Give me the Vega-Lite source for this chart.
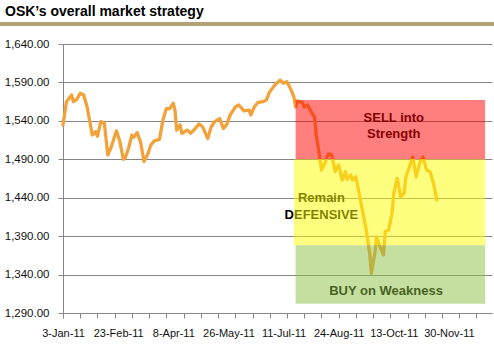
{
  "$schema": "https://vega.github.io/schema/vega-lite/v6.json",
  "width": 429,
  "height": 269,
  "autosize": {"type": "none"},
  "padding": {"left": 63, "top": 44, "right": 2, "bottom": 31},
  "background": "white",
  "config": {"view": {"stroke": null}},
  "title": {
    "text": "OSK\u2019s overall market strategy",
    "anchor": "start",
    "frame": "group",
    "dx": -58,
    "offset": 3,
    "font": "Liberation Sans",
    "fontSize": 14,
    "fontWeight": "bold",
    "color": "#000000"
  },
  "datasets": {
    "series": [
      {"d": 0, "v": 1534.6}, {"d": 2, "v": 1565}, {"d": 5, "v": 1573.6}, {"d": 6, "v": 1565},
      {"d": 8, "v": 1568}, {"d": 10, "v": 1576}, {"d": 12, "v": 1573.6}, {"d": 14, "v": 1558},
      {"d": 17, "v": 1521.6}, {"d": 19, "v": 1526}, {"d": 20, "v": 1520}, {"d": 22, "v": 1539},
      {"d": 24, "v": 1537}, {"d": 26, "v": 1495.6}, {"d": 28, "v": 1506}, {"d": 31, "v": 1527},
      {"d": 33, "v": 1513}, {"d": 35, "v": 1490}, {"d": 36, "v": 1491}, {"d": 38, "v": 1504},
      {"d": 40, "v": 1521.6}, {"d": 41, "v": 1518.6}, {"d": 43, "v": 1524.6}, {"d": 45, "v": 1513},
      {"d": 47, "v": 1487}, {"d": 49, "v": 1495.6}, {"d": 51, "v": 1508.6}, {"d": 53, "v": 1514},
      {"d": 56, "v": 1516}, {"d": 58, "v": 1541}, {"d": 60, "v": 1556}, {"d": 62, "v": 1556},
      {"d": 64, "v": 1563}, {"d": 65, "v": 1554}, {"d": 66, "v": 1528}, {"d": 68, "v": 1534.6},
      {"d": 69, "v": 1523.8}, {"d": 72, "v": 1528}, {"d": 74, "v": 1524}, {"d": 76, "v": 1528},
      {"d": 79, "v": 1536}, {"d": 81, "v": 1532.4}, {"d": 84, "v": 1517}, {"d": 86, "v": 1532},
      {"d": 88, "v": 1539}, {"d": 91, "v": 1543}, {"d": 93, "v": 1530}, {"d": 95, "v": 1535},
      {"d": 97, "v": 1547.6}, {"d": 100, "v": 1558}, {"d": 102, "v": 1560.6}, {"d": 105, "v": 1553},
      {"d": 108, "v": 1554}, {"d": 109, "v": 1547.6}, {"d": 111, "v": 1558}, {"d": 113, "v": 1563.6},
      {"d": 116, "v": 1565}, {"d": 118, "v": 1567}, {"d": 120, "v": 1578}, {"d": 123, "v": 1586.7},
      {"d": 126, "v": 1593}, {"d": 128, "v": 1588.9}, {"d": 130, "v": 1591}, {"d": 132, "v": 1582},
      {"d": 134, "v": 1571.4}, {"d": 135, "v": 1558}, {"d": 136, "v": 1566}, {"d": 139, "v": 1563.6},
      {"d": 140, "v": 1558}, {"d": 142, "v": 1560.6}, {"d": 144, "v": 1552}, {"d": 146, "v": 1545},
      {"d": 147, "v": 1521.6}, {"d": 149, "v": 1493}, {"d": 150, "v": 1476}, {"d": 152, "v": 1484.8},
      {"d": 154, "v": 1497}, {"d": 156, "v": 1495.6}, {"d": 158, "v": 1474}, {"d": 160, "v": 1482.6},
      {"d": 162, "v": 1463}, {"d": 164, "v": 1474}, {"d": 165, "v": 1464}, {"d": 167, "v": 1469.6},
      {"d": 168, "v": 1463}, {"d": 170, "v": 1467.4}, {"d": 176, "v": 1398}, {"d": 178, "v": 1367.7},
      {"d": 179, "v": 1341.7}, {"d": 181, "v": 1368}, {"d": 182, "v": 1389}, {"d": 184, "v": 1376},
      {"d": 186, "v": 1365.5}, {"d": 187, "v": 1396}, {"d": 189, "v": 1398}, {"d": 191, "v": 1420},
      {"d": 192, "v": 1446}, {"d": 194, "v": 1465}, {"d": 196, "v": 1441}, {"d": 198, "v": 1446},
      {"d": 199, "v": 1467}, {"d": 201, "v": 1480}, {"d": 203, "v": 1493}, {"d": 205, "v": 1467},
      {"d": 207, "v": 1485}, {"d": 209, "v": 1493}, {"d": 211, "v": 1476}, {"d": 213, "v": 1474},
      {"d": 215, "v": 1459}, {"d": 217, "v": 1437}
    ],
    "zones": [
      {"zone": "sell", "d1": 135, "d2": 245, "v1": 1490, "v2": 1567},
      {"zone": "defensive", "d1": 134, "d2": 245, "v1": 1378, "v2": 1490},
      {"zone": "buy", "d1": 135, "d2": 245, "v1": 1302, "v2": 1378}
    ],
    "notes": [
      {"label": "SELL into", "d": 192, "v": 1544},
      {"label": "Strength", "d": 192, "v": 1522.5},
      {"label": "Remain", "d": 150, "v": 1439},
      {"label": "DEFENSIVE", "d": 150, "v": 1417.5},
      {"label": "BUY on Weakness", "d": 187.5, "v": 1319}
    ]
  },
  "layer": [
    {
      "data": {"name": "series"},
      "mark": {"type": "line", "color": "#F2A23A", "strokeWidth": 3.3, "strokeJoin": "round", "strokeCap": "round"},
      "encoding": {
        "x": {
          "field": "d", "type": "quantitative",
          "scale": {"domain": [0, 249], "nice": false, "zero": false},
          "axis": {
            "title": null,
            "grid": false,
            "tickCount": 100,
            "values": [0, 10, 20, 30, 32, 40, 50, 60, 64, 70, 80, 90, 96, 100, 110, 120, 128, 130, 140, 150, 160, 170, 180, 190, 192, 200, 210, 220, 224, 230, 240],
            "labelExpr": "datum.value == 0 ? '3-Jan-11' : datum.value == 32 ? '23-Feb-11' : datum.value == 64 ? '8-Apr-11' : datum.value == 96 ? '26-May-11' : datum.value == 128 ? '11-Jul-11' : datum.value == 160 ? '24-Aug-11' : datum.value == 192 ? '13-Oct-11' : datum.value == 224 ? '30-Nov-11' : ''",
            "labelOverlap": false,
            "labelFlush": false,
            "labelBound": false,
            "labelFont": "Liberation Sans",
            "labelFontSize": 11,
            "labelColor": "#111111",
            "labelPadding": 9,
            "tickSize": 5,
            "tickColor": "#868686",
            "tickOpacity": {"condition": {"test": "datum.value % 10 !== 0", "value": 0}, "value": 1},
            "domainColor": "#868686"
          }
        },
        "y": {
          "field": "v", "type": "quantitative",
          "scale": {"domain": [1290, 1640], "nice": false, "zero": false},
          "axis": {
            "title": null,
            "tickCount": 20,
            "values": [1290, 1340, 1390, 1440, 1490, 1540, 1590, 1640],
            "format": ",.2f",
            "labelOverlap": false,
            "labelFont": "Liberation Sans",
            "labelFontSize": 11.5,
            "labelColor": "#111111",
            "labelPadding": 9,
            "tickSize": 5,
            "tickColor": "#868686",
            "domainColor": "#868686",
            "gridColor": "#868686"
          }
        }
      }
    },
    {
      "data": {"name": "notes"},
      "mark": {"type": "text", "font": "Liberation Sans", "fontSize": 13, "fontWeight": "bold", "color": "#000000", "align": "center", "baseline": "middle"},
      "encoding": {
        "x": {"field": "d", "type": "quantitative"},
        "y": {"field": "v", "type": "quantitative"},
        "text": {"field": "label"}
      }
    },
    {
      "data": {"name": "zones"},
      "mark": {"type": "rect", "opacity": 0.5},
      "encoding": {
        "x": {"field": "d1", "type": "quantitative"},
        "x2": {"field": "d2"},
        "y": {"field": "v1", "type": "quantitative"},
        "y2": {"field": "v2"},
        "color": {
          "field": "zone", "type": "nominal", "legend": null,
          "scale": {"domain": ["sell", "defensive", "buy"], "range": ["#FF0000", "#FFFF00", "#89BF41"]}
        }
      }
    },
    {
      "data": {"values": [{}]},
      "mark": {"type": "rule", "color": "#B2A276", "strokeWidth": 4, "clip": false},
      "encoding": {
        "x": {"datum": -37},
        "x2": {"datum": 251},
        "y": {"datum": 1666}
      }
    }
  ]
}
